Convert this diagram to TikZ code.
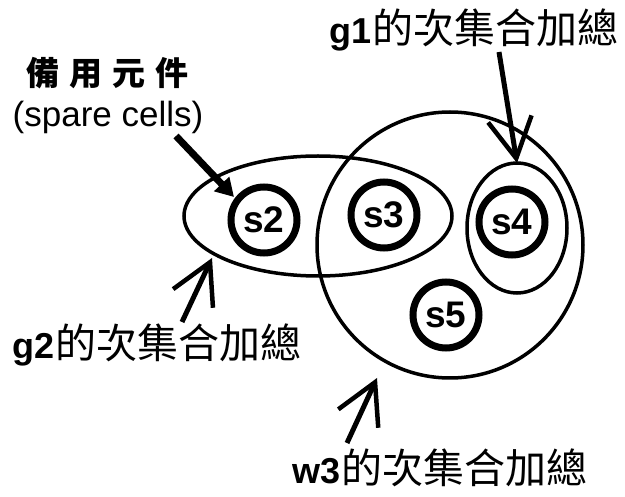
\documentclass[tikz,border=0pt]{standalone}
\usepackage{fontspec}
\setmainfont{Liberation Sans}
\newfontfamily\cjk{Noto Sans CJK TC}
\usetikzlibrary{shapes.geometric,arrows.meta}

\begin{document}
\begin{tikzpicture}[x=1pt,y=-1pt,
  cell/.style={circle,draw,line width=7pt,minimum size=66pt,inner sep=0pt,
    font=\fontsize{37}{37}\selectfont\bfseries},
  group/.style={draw,line width=3.5pt,inner sep=0pt},
  label/.style={inner sep=0pt,anchor=center},
  pointer/.style={line width=5pt,-{Straight Barb[length=40pt,width=44pt,line width=4.5pt]}},
  heavy/.style={line width=7pt,-{Triangle[length=18pt,width=20pt]}}]
\useasboundingbox (0,0) rectangle (625,497);

% groups: w3 circle, g2 ellipse, g1 ellipse
\node[group,circle,minimum size=266pt] (w3) at (450,245) {};
\node[group,ellipse,minimum width=268pt,minimum height=120pt] (g2) at (318,216) {};
\node[group,ellipse,minimum width=100pt,minimum height=130pt] (g1) at (517,228) {};

% cells
\node[cell] (s2) at (264,220) {s2};
\node[cell] (s3) at (384,215) {s3};
\node[cell] (s4) at (512,222) {s4};
\node[cell] (s5) at (446,315) {s5};

% labels
\node[label] (spzh) at (108,73) {\fontsize{33}{33}\selectfont\cjk\bfseries 備\hspace{10pt}用\hspace{10pt}元\hspace{10pt}件};
\node[label] (spen) at (108,117) {\fontsize{35}{35}\selectfont (spare cells)};
\node[label] (lg1) at (474,30) {\fontsize{36}{36}\selectfont\bfseries g1\cjk\mdseries\fontsize{41}{41}\selectfont 的次集合加總};
\node[label] (lg2) at (157,345) {\fontsize{36}{36}\selectfont\bfseries g2\cjk\mdseries\fontsize{41}{41}\selectfont 的次集合加總};
\node[label] (lw3) at (440,468) {\fontsize{36}{36}\selectfont\bfseries w3\cjk\mdseries\fontsize{41}{41}\selectfont 的次集合加總};

% arrow ends
\coordinate (g1tail) at (499,52);
\coordinate (g1tip) at (517,163);
\coordinate (g2tail) at (182,322);
\coordinate (g2tip) at (212,258);
\coordinate (w3tail) at (347,443);
\coordinate (w3tip) at (377,378);
\coordinate (sptail) at (176,136);
\coordinate (sptip) at (234,197);

\draw[pointer] (g1tail) -- (g1tip);
\draw[pointer] (g2tail) -- (g2tip);
\draw[pointer] (w3tail) -- (w3tip);
\draw[heavy] (sptail) -- (sptip);
\end{tikzpicture}
\end{document}
